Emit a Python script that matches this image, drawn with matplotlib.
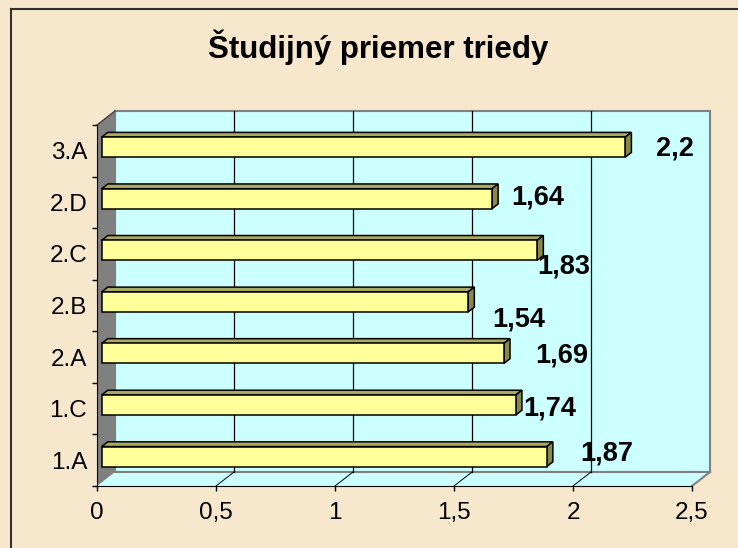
import matplotlib.pyplot as plt
from matplotlib.lines import Line2D
from matplotlib.patches import Polygon, Rectangle

plt.rcParams['font.family'] = ['Liberation Sans', 'DejaVu Sans']

# data (bottom to top)
classes = ['1.A', '1.C', '2.A', '2.B', '2.C', '2.D', '3.A']
averages = [1.87, 1.74, 1.69, 1.54, 1.83, 1.64, 2.2]
x_ticks = [0, 0.5, 1, 1.5, 2, 2.5]
x_ticklabels = ['0', '0,5', '1', '1,5', '2', '2,5']
title = 'Študijný priemer triedy'

# where Excel dropped each data label, pixels from the bar end (right, down to baseline)
label_offsets = [(60, 4), (34, 10), (58, 9), (50, 25), (27, 23), (46, 6), (50, 8)]

fig = plt.figure(figsize=(7.38, 5.48), dpi=100, facecolor='#f7e8cd')
ax = fig.add_axes([97 / 738, 62 / 548, 595 / 738, 361 / 548])
ax.set_xlim(0, 2.5)
ax.set_ylim(-0.5, 6.5)
ax.patch.set_visible(False)

# pixel -> data units
px_x = 2.5 / 595
px_y = 7 / 361
dx, dy = 18 * px_x, 14 * px_y

# back wall, floor, left wall
ax.add_patch(Rectangle((dx, -0.5 + dy), 2.5, 7, fc='#ccffff', ec='#808080', lw=1.5,
                       clip_on=False, zorder=0))
ax.add_patch(Polygon([(0, -0.5), (2.5, -0.5), (2.5 + dx, -0.5 + dy), (dx, -0.5 + dy)],
                     closed=True, fc='#ccffff', ec='none', clip_on=False, zorder=0.1))
ax.plot([dx, 2.5 + dx], [-0.5 + dy, -0.5 + dy], color='#808080', lw=1.5, clip_on=False, zorder=0.2)
ax.plot([2.5, 2.5 + dx], [-0.5, -0.5 + dy], color='#808080', lw=1.5, clip_on=False, zorder=0.2)
ax.add_patch(Polygon([(0, -0.5), (dx, -0.5 + dy), (dx, 6.5 + dy), (0, 6.5)],
                     closed=True, fc='#808080', ec='none', clip_on=False, zorder=0.5))
ax.plot([0, dx], [6.5, 6.5 + dy], color='#404040', lw=1, clip_on=False, zorder=0.6)

# gridlines on back wall and floor
for t in x_ticks[1:-1]:
    ax.plot([t + dx, t + dx], [-0.5 + dy, 6.5 + dy], color='black', lw=0.9, clip_on=False, zorder=0.6)
    ax.plot([t, t + dx], [-0.5, -0.5 + dy], color='black', lw=0.7, clip_on=False, zorder=0.6)

# 3d bars
f1, f2 = 0.26, 0.6
bx, by = f1 * dx, f1 * dy
sx, sy = (f2 - f1) * dx, (f2 - f1) * dy
h = 20 * px_y
ypos = [i + by for i in range(len(classes))]
ax.barh(ypos, averages, left=bx, height=h, color='#ffff99', edgecolor='black', lw=1.1, zorder=3)
for yc, v in zip(ypos, averages):
    top = yc + h / 2
    bot = yc - h / 2
    ax.add_patch(Polygon([(bx, top), (bx + v, top), (bx + v + sx, top + sy), (bx + sx, top + sy)],
                         closed=True, fc='#a9a962', ec='black', lw=1.1, clip_on=False, zorder=2.9))
    ax.add_patch(Polygon([(bx + v, bot), (bx + v + sx, bot + sy), (bx + v + sx, top + sy), (bx + v, top)],
                         closed=True, fc='#88884c', ec='black', lw=1.1, clip_on=False, zorder=2.9))

# data labels
for yc, v, (ox, oy) in zip(ypos, averages, label_offsets):
    ax.annotate(str(v).replace('.', ','), xy=(bx + v, yc), xytext=(ox, -oy),
                textcoords='offset pixels', ha='center', va='baseline',
                fontsize=19.5, fontweight='bold', zorder=5, annotation_clip=False)

# axes
ax.set_xticks(x_ticks, x_ticklabels)
ax.set_yticks(range(len(classes)), classes)
ax.set_yticks([k - 0.5 for k in range(len(classes) + 1)], minor=True)
ax.tick_params(axis='x', length=3.6, width=1, pad=8, labelsize=17.5)
ax.tick_params(axis='y', which='major', length=0, pad=7, labelsize=17.5)
ax.tick_params(axis='y', which='minor', length=3.6, width=1)
for lbl in ax.get_yticklabels():
    lbl.set_y(lbl.get_position()[1])
ax.spines['top'].set_visible(False)
ax.spines['right'].set_visible(False)
ax.spines['left'].set_color('black')
ax.spines['bottom'].set_color('black')

fig.text(378 / 738, 1 - 58 / 548, title, ha='center', va='baseline', fontsize=22.5, fontweight='bold')

# chart area border: only its top and left edges fall inside the image
bl, bt = 11 / 738, 1 - 9 / 548
fig.add_artist(Line2D([bl, 1.0], [bt, bt], transform=fig.transFigure, color='#303030', lw=1.5))
fig.add_artist(Line2D([bl, bl], [0.0, bt], transform=fig.transFigure, color='#303030', lw=1.5))

fig.savefig('out.png', dpi=100, facecolor=fig.get_facecolor())
